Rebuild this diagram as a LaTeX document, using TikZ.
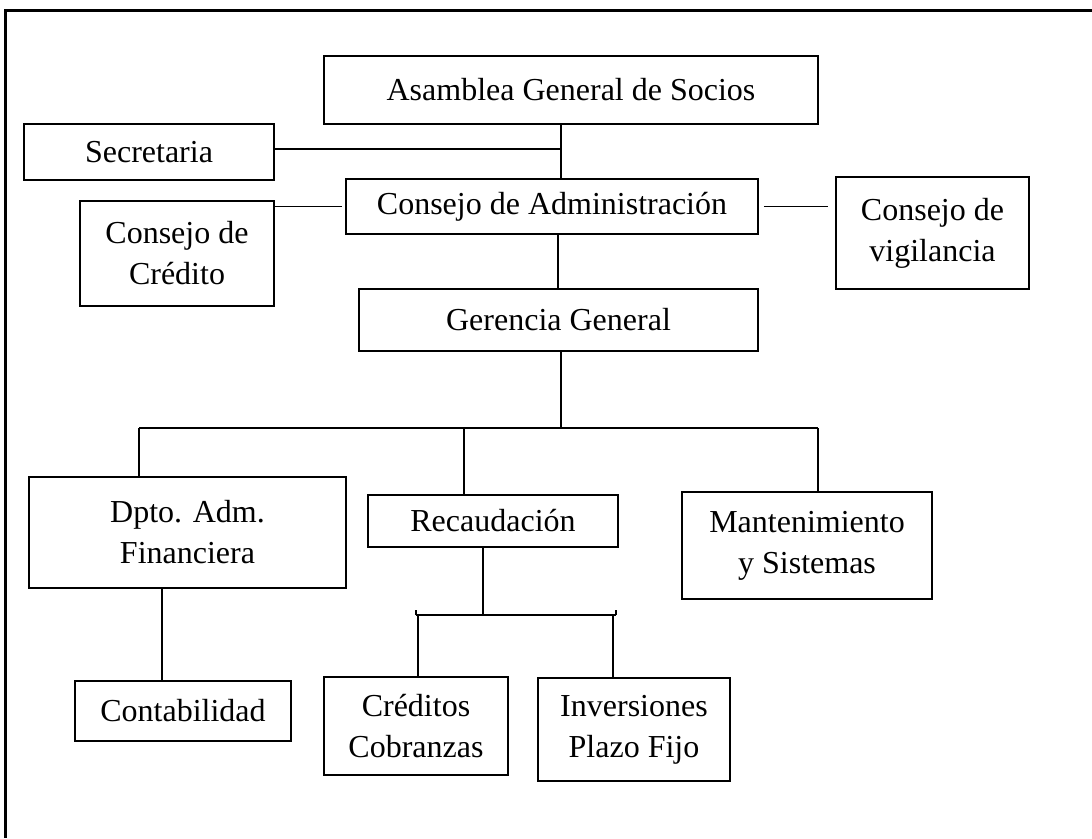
\documentclass[tikz,border=0pt]{standalone}
\usepackage{fontspec}
\setmainfont{Liberation Serif}
\begin{document}
\begin{tikzpicture}[x=1pt,y=-1pt,
  box/.style={draw, line width=1.8pt, inner sep=0pt, align=center, font=\fontsize{32}{41}\selectfont},
  conn/.style={line width=1.8pt},
  frame/.style={line width=3pt}]
\useasboundingbox (0,0) rectangle (1092,838);
\draw[frame] (1092,10) -- (5,10) -- (5,838);

\node[box, minimum width=494pt, minimum height=68pt] (asam) at (571,90) {Asamblea General de Socios};
\node[box, minimum width=250pt, minimum height=56pt] (secr) at (149,152) {Secretaria};
\node[box, minimum width=412pt, minimum height=55pt] (admin) at (552,206.5) {Consejo de Administración};
\node[box, minimum width=194pt, minimum height=105pt] (cred) at (177,253.5) {Consejo de\\Crédito};
\node[box, minimum width=193pt, minimum height=112pt] (vig) at (932.5,233) {Consejo de\\vigilancia};
\node[box, minimum width=399pt, minimum height=62pt] (ger) at (558.5,320) {Gerencia General};
\node[box, minimum width=317pt, minimum height=111pt] (dpto) at (187.5,532.5) {Dpto. Adm.\\Financiera};
\node[box, minimum width=250pt, minimum height=52pt] (recaud) at (493,521) {Recaudación};
\node[box, minimum width=250pt, minimum height=107pt] (mant) at (807,545.5) {Mantenimiento\\y Sistemas};
\node[box, minimum width=216pt, minimum height=60pt] (conta) at (183,711) {Contabilidad};
\node[box, minimum width=184pt, minimum height=98pt] (credc) at (416,726) {Créditos\\Cobranzas};
\node[box, minimum width=192pt, minimum height=103pt] (inv) at (634,729.5) {Inversiones\\Plazo Fijo};

\coordinate (xa) at (561,0);
\coordinate (s1) at (561,149);
\coordinate (xg) at (558,0);
\coordinate (bus) at (561,428);
\coordinate (busL) at (139,428);
\coordinate (busR) at (818,428);
\coordinate (bm) at (464,428);
\coordinate (r2) at (483,615);
\coordinate (b2L) at (416,615);
\coordinate (b2R) at (616,615);
\coordinate (d1) at (418,615);
\coordinate (d2) at (613,615);
\coordinate (xc) at (162,0);

\draw[conn] (asam.south -| xa) -- (admin.north -| xa);
\draw[conn] (secr.east |- s1) -- (s1);
\draw[conn, shorten <=3pt] (admin.west) -- (admin.west -| cred.east);
\draw[conn, shorten <=5pt, shorten >=7pt] (admin.east) -- (admin.east -| vig.west);
\draw[conn] (admin.south -| xg) -- (ger.north -| xg);
\draw[conn] (ger.south -| bus) -- (bus);
\draw[conn] (busL) -- (busR);
\draw[conn] (busL) -- (dpto.north -| busL);
\draw[conn] (bm) -- (recaud.north -| bm);
\draw[conn] (busR) -- (mant.north -| busR);
\draw[conn] (recaud.south -| r2) -- (r2);
\draw[conn] (b2L) -- (b2R);
\draw[conn] (b2L) -- ++(0,-5);
\draw[conn] (b2R) -- ++(0,-5);
\draw[conn] (d1) -- (credc.north -| d1);
\draw[conn] (d2) -- (inv.north -| d2);
\draw[conn] (dpto.south -| xc) -- (conta.north -| xc);
\end{tikzpicture}
\end{document}
